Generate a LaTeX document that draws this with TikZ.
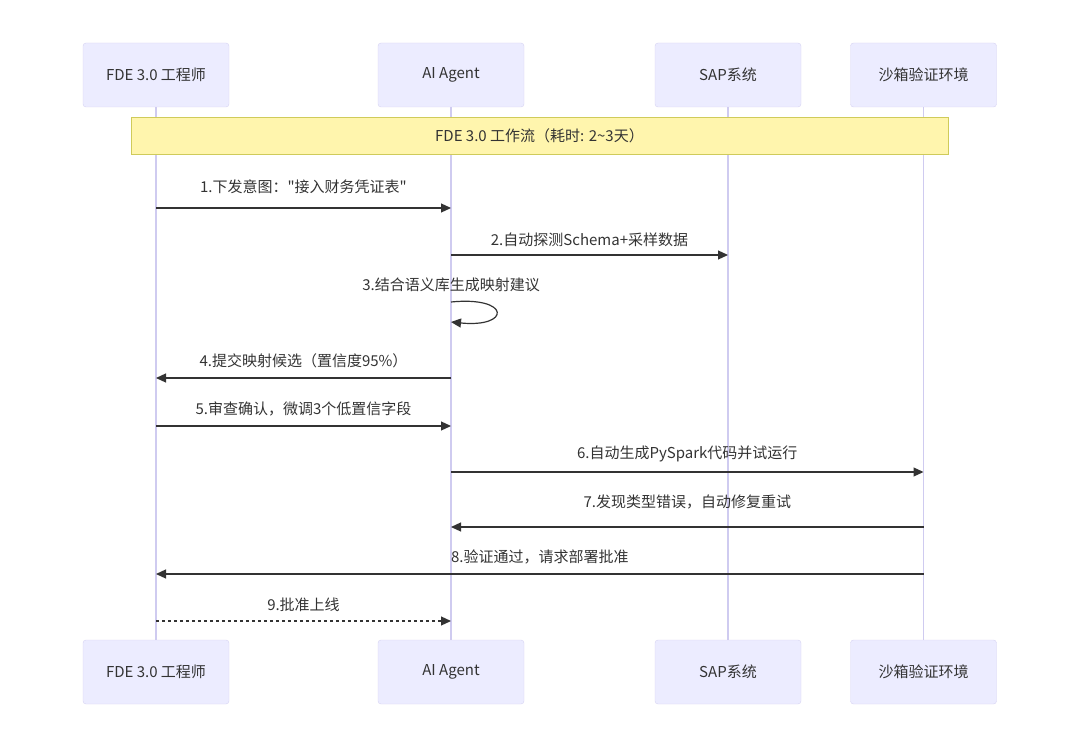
\documentclass[tikz,border=0pt]{standalone}
\usepackage{fontspec}
\setmainfont{Noto Sans CJK SC}
\newfontfamily\rawfont{Noto Sans CJK SC}
\usetikzlibrary{arrows.meta}
\definecolor{actorfill}{HTML}{ECECFF}
\definecolor{actorline}{HTML}{D6D2F2}
\definecolor{lifecol}{HTML}{CFCBF0}
\definecolor{notefill}{HTML}{FFF5AD}
\definecolor{noteline}{HTML}{CFCB5A}
\definecolor{msgcol}{HTML}{333333}
\tikzstyle{actor} = [rectangle, rounded corners=3pt, minimum width=146pt, minimum height=64pt, text centered, draw=actorline, fill=actorfill, text=msgcol]
\tikzstyle{note} = [rectangle, minimum width=817pt, minimum height=37pt, text centered, draw=noteline, fill=notefill, text=msgcol]
\tikzstyle{lifeline} = [draw=lifecol, line width=1.3pt]
\tikzstyle{msg} = [draw=msgcol, line width=1.2pt, -{Triangle[length=10pt,width=9pt]}]
\tikzstyle{lbl} = [text=msgcol, inner sep=0pt, anchor=south]

\begin{document}
\begin{tikzpicture}[x=1pt, y=1pt, font=\fontsize{15}{18}\selectfont]
\useasboundingbox (0,0) rectangle (1080,-749);

% participants
\node (engT) [actor] at (156,-75) {FDE 3.0 工程师};
\node (agentT) [actor] at (451,-75) {AI Agent};
\node (sapT) [actor] at (728,-75) {SAP系统};
\node (boxT) [actor] at (923.5,-75) {沙箱验证环境};
\node (engB) [actor] at (156,-672) {FDE 3.0 工程师};
\node (agentB) [actor] at (451,-672) {AI Agent};
\node (sapB) [actor] at (728,-672) {SAP系统};
\node (boxB) [actor] at (923.5,-672) {沙箱验证环境};

\draw [lifeline] (engT) -- (engB);
\draw [lifeline] (agentT) -- (agentB);
\draw [lifeline] (sapT) -- (sapB);
\draw [lifeline] (boxT) -- (boxB);

\node (flow) [note] at (539.5,-135.5) {FDE 3.0 工作流（耗时: 2\textasciitilde3天）};

% messages
\draw [msg] (engT |- 0,-208) -- node[lbl, above=14pt] {1.下发意图：{\rawfont"}接入财务凭证表{\rawfont"}} (agentT |- 0,-208);
\draw [msg] (agentT |- 0,-255) -- node[lbl, above=8pt] {2.自动探测Schema+采样数据} (sapT |- 0,-255);
\node (lbl3) [lbl] at (451,-292) {3.结合语义库生成映射建议};
\draw [msg] (agentT |- 0,-302) .. controls (511,-296) and (511,-328) .. (agentT |- 0,-322);
\draw [msg] (agentT |- 0,-378) -- node[lbl, above=9pt] {4.提交映射候选（置信度95\%）} (engT |- 0,-378);
\draw [msg] (engT |- 0,-426) -- node[lbl, above=9pt] {5.审查确认，微调3个低置信字段} (agentT |- 0,-426);
\draw [msg] (agentT |- 0,-472) -- node[lbl, above=9pt] {6.自动生成PySpark代码并试运行} (boxT |- 0,-472);
\draw [msg] (boxT |- 0,-527) -- node[lbl, above=17pt] {7.发现类型错误，自动修复重试} (agentT |- 0,-527);
\draw [msg] (boxT |- 0,-574) -- node[lbl, above=9pt] {8.验证通过，请求部署批准} (engT |- 0,-574);
\draw [msg, dash pattern=on 3pt off 3pt] (engT |- 0,-621) -- node[lbl, above=9pt] {9.批准上线} (agentT |- 0,-621);

\end{tikzpicture}
\end{document}
